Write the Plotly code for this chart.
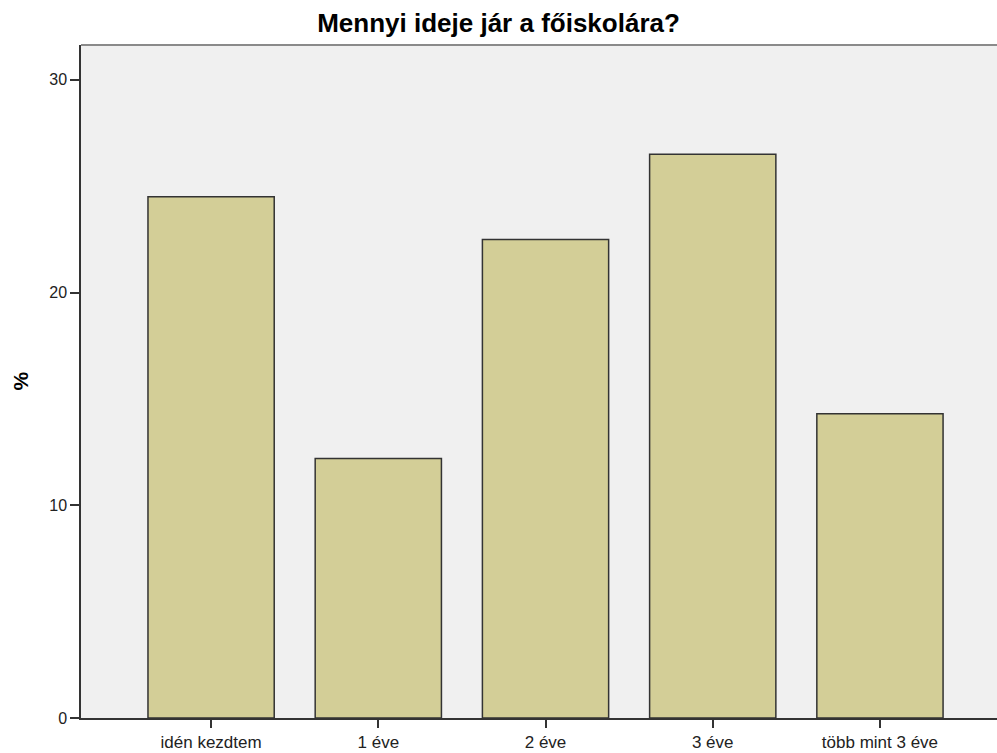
import plotly.graph_objects as go

categories = ["idén kezdtem", "1 éve", "2 éve", "3 éve", "több mint 3 éve"]
percent = [24.5, 12.2, 22.5, 26.5, 14.3]
y_ticks = [0, 10, 20, 30]

W, H = 997, 753
ML, MR, MT, MB = 81, 0, 45, 35

fig = go.Figure()
fig.add_trace(go.Bar(
    x=list(range(len(categories))),
    y=percent,
    width=0.755,
    marker=dict(color="#D3CE97", line=dict(color="#333333", width=1.5)),
    hoverinfo="skip",
))

font_family = "Arial, Liberation Sans, sans-serif"

fig.update_layout(
    width=W, height=H,
    margin=dict(l=ML, r=MR, t=MT, b=MB),
    paper_bgcolor="white",
    plot_bgcolor="#F0F0F0",
    showlegend=False,
    font=dict(family=font_family, color="#222222", size=16),
    title=dict(
        text="<b>Mennyi ideje jár a főiskolára?</b>",
        x=0.5, xanchor="center", xref="container",
        y=1 - 23 / H, yanchor="middle",
        font=dict(size=26, color="#000000", family=font_family),
    ),
    xaxis=dict(
        tickmode="array",
        tickvals=list(range(len(categories))),
        ticktext=categories,
        range=[-0.778, 4.70],
        showgrid=False, zeroline=False,
        showline=True, linecolor="#333333", linewidth=1.5,
        ticks="outside", ticklen=8, tickcolor="#333333", tickwidth=1.5,
        tickfont=dict(size=17, color="#222222"),
    ),
    yaxis=dict(
        range=[0, 31.64],
        tickmode="array",
        tickvals=y_ticks,
        showgrid=False, zeroline=False,
        showline=True, linecolor="#333333", linewidth=1.5,
        ticks="outside", ticklen=9, tickcolor="#333333", tickwidth=1.5,
        tickfont=dict(size=16, color="#222222"),
    ),
    shapes=[dict(
        type="line", xref="paper", yref="paper",
        x0=0, x1=1, y0=1, y1=1,
        line=dict(color="#8A8A8A", width=2),
    )],
    annotations=[dict(
        text="<b>%</b>", xref="paper", yref="paper",
        x=-(81 - 20) / (W - ML - MR), y=0.5,
        xanchor="center", yanchor="middle",
        textangle=-90, showarrow=False,
        font=dict(size=21, color="#000000", family=font_family),
    )],
)

fig.write_html(
    "out.html",
    config={"displayModeBar": False},
    post_script="document.body.style.margin='0';document.body.style.overflow='hidden';",
)
